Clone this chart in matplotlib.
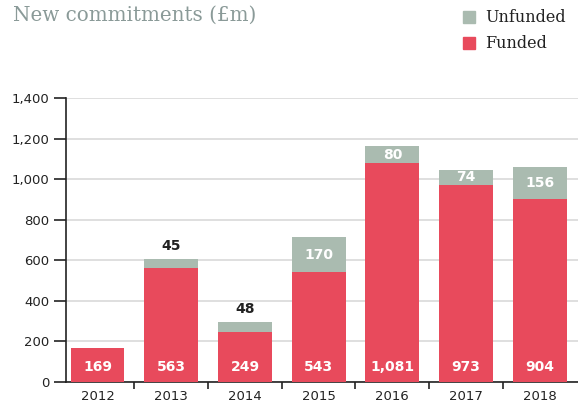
import matplotlib
matplotlib.use("Agg")
import matplotlib.pyplot as plt
from matplotlib.patches import Rectangle
from matplotlib import font_manager

years = ["2012", "2013", "2014", "2015", "2016", "2017", "2018"]
funded = [169, 563, 249, 543, 1081, 973, 904]
unfunded = [0, 45, 48, 170, 80, 74, 156]
yticks = [0, 200, 400, 600, 800, 1000, 1200, 1400]
ytick_labels = ["0", "200", "400", "600", "800", "1,000", "1,200", "1,400"]

RED = "#e84a5c"
GRAY = "#aabbb0"
LABEL_FONT = "DejaVu Sans"
serif_path = font_manager.findfont(font_manager.FontProperties(family="DejaVu Serif"))
SERIF = font_manager.FontProperties(fname=serif_path)

fig = plt.figure(figsize=(5.78, 4.03), dpi=100)
ax = fig.add_axes([0.114, 0.052, 0.886, 0.705])
x = list(range(len(years)))
ax.bar(x, funded, width=0.73, color=RED, zorder=3)
ax.bar(x, unfunded, width=0.73, bottom=funded, color=GRAY, zorder=3)

ax.set_ylim(0, 1400)
ax.set_xlim(-0.43, 6.52)
ax.set_yticks(yticks)
ax.set_yticklabels(ytick_labels, fontsize=9.5, family=LABEL_FONT, color="#222222")
ax.grid(axis="y", color="#d6d6d6", linewidth=1.1, zorder=0)
ax.tick_params(axis="y", length=9, width=1.2, color="#222222", pad=3)

ax.set_xticks(x)
ax.set_xticklabels(years, fontsize=9.5, family=LABEL_FONT, color="#222222")
ax.set_xticks([i + 0.5 for i in range(len(years) - 1)], minor=True)
ax.tick_params(axis="x", which="major", length=0, pad=6)
ax.tick_params(axis="x", which="minor", length=5, width=1.2, color="#222222")

for s in ["top", "right"]:
    ax.spines[s].set_visible(False)
for s in ["left", "bottom"]:
    ax.spines[s].set_color("#222222")
    ax.spines[s].set_linewidth(1.2)

for i in x:
    ax.text(i, 75, f"{funded[i]:,}", ha="center", va="center", color="white",
            fontsize=10, fontweight="bold", family=LABEL_FONT, zorder=4)
    u = unfunded[i]
    if u == 0:
        continue
    if u < 60:
        ax.text(i, funded[i] + u + 28, f"{u}", ha="center", va="bottom", color="#222222",
                fontsize=10, fontweight="bold", family=LABEL_FONT, zorder=4)
    else:
        ax.text(i, funded[i] + u / 2, f"{u}", ha="center", va="center", color="white",
                fontsize=10, fontweight="bold", family=LABEL_FONT, zorder=4)

t = fig.text(13 / 578, 1 - 15 / 403, "New commitments (£m)", fontproperties=SERIF,
             color="#8a9a98", va="center", ha="left")
t.set_fontsize(14.3)

for yy, lab, c in [(17, "Unfunded", GRAY), (43, "Funded", RED)]:
    fig.patches.append(Rectangle((463 / 578, 1 - (yy + 6) / 403), 12 / 578, 12 / 403,
                                 transform=fig.transFigure, color=c, figure=fig))
    lt = fig.text(485 / 578, 1 - yy / 403, lab, fontproperties=SERIF,
                  color="#222222", va="center", ha="left")
    lt.set_fontsize(11.5)

fig.savefig("out.png", dpi=100)
